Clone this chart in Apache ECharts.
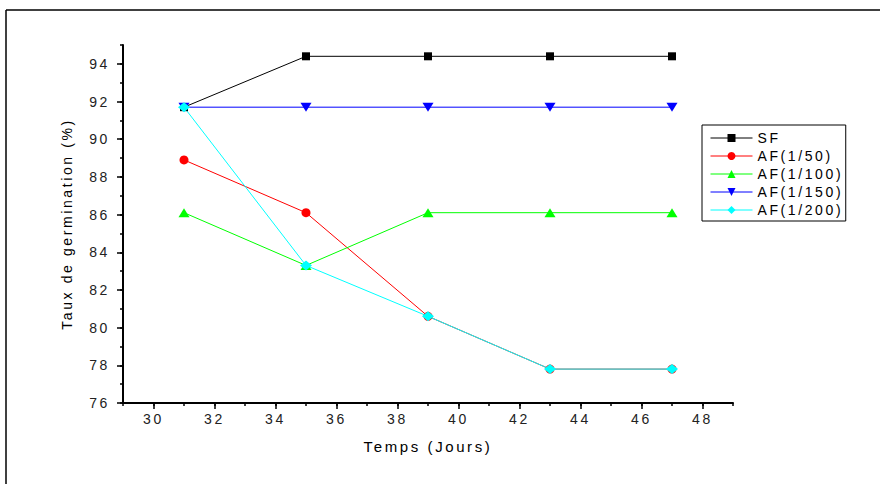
<!DOCTYPE html>
<html>
<head>
<meta charset="utf-8">
<title>Taux de germination</title>
<script src="https://cdn.jsdelivr.net/npm/echarts@6/dist/echarts.min.js"></script>
<style>
  html, body { margin: 0; padding: 0; background: #fff; }
  #main { width: 880px; height: 484px; }
  /* texte espacé comme dans la figure d'origine */
  #main text { letter-spacing: 2.6px; }
</style>
</head>
<body>
<div id="main"></div>
<script>
// jours de mesure
const days = [31, 35, 39, 43, 47];

// taux de germination (%) par traitement
const sf = [91.7, 94.4, 94.4, 94.4, 94.4];
const af50 = [88.9, 86.1, 80.6, 77.8, 77.8];
const af100 = [86.1, 83.3, 86.1, 86.1, 86.1];
const af150 = [91.7, 91.7, 91.7, 91.7, 91.7];
const af200 = [91.7, 83.3, 80.6, 77.8, 77.8];

// graduations des axes
const xTicks = [];
for (let v = 29; v <= 49; v++) xTicks.push(String(v));
const yTicks = [];
for (let v = 76; v <= 95; v++) yTicks.push(String(v));

const font = 'Liberation Sans, Arial, sans-serif';

function pairs(ys) {
  return days.map(function (d, i) { return [d, ys[i]]; });
}

function makeSeries(name, ys, color, symbol, size) {
  return {
    name: name,
    type: 'line',
    xAxisIndex: 0,
    yAxisIndex: 0,
    data: pairs(ys),
    symbol: symbol,
    symbolSize: size,
    showAllSymbol: true,
    lineStyle: { color: color, width: 1 },
    itemStyle: { color: color },
    emphasis: { disabled: true },
    animation: false
  };
}

const even = function (idx, val) { return Number(val) % 2 === 0; };

const option = {
  animation: false,
  grid: { left: 123, right: 147, top: 45, bottom: 81 },
  graphic: [
    { type: 'line', shape: { x1: 6, y1: 10, x2: 880, y2: 10 }, style: { stroke: '#000', lineWidth: 1.5 } },
    { type: 'line', shape: { x1: 6, y1: 10, x2: 6, y2: 484 }, style: { stroke: '#000', lineWidth: 1.5 } }
  ],
  legend: {
    orient: 'vertical',
    left: 702,
    top: 125,
    padding: [6, 26, 4, 8],
    itemWidth: 42,
    itemHeight: 10,
    itemGap: 4,
    borderColor: '#000',
    borderWidth: 1,
    lineStyle: { width: 1 },
    textStyle: { fontFamily: font, fontSize: 14, color: '#000' },
    data: ['SF', 'AF(1/50)', 'AF(1/100)', 'AF(1/150)', 'AF(1/200)']
  },
  xAxis: [
    {
      // petites graduations (pas de 1)
      type: 'value',
      min: 29,
      max: 49,
      interval: 1,
      position: 'bottom',
      axisLine: { lineStyle: { color: '#000', width: 2 } },
      axisTick: { length: 3, lineStyle: { color: '#000', width: 1.5 } },
      axisLabel: { show: false },
      splitLine: { show: false }
    },
    {
      // grandes graduations et libellés (pas de 2)
      type: 'category',
      data: xTicks,
      boundaryGap: false,
      position: 'bottom',
      axisLine: { show: false },
      axisTick: { length: 6, interval: even, lineStyle: { color: '#000', width: 1.5 } },
      axisLabel: { interval: even, margin: 9, fontFamily: font, fontSize: 14, color: '#222' },
      splitLine: { show: false },
      name: 'Temps (Jours)',
      nameLocation: 'middle',
      nameGap: 36,
      nameTextStyle: { fontFamily: font, fontSize: 15, color: '#000' }
    }
  ],
  yAxis: [
    {
      type: 'value',
      min: 76,
      max: 95,
      interval: 1,
      position: 'left',
      axisLine: { show: true, lineStyle: { color: '#000', width: 2 } },
      axisTick: { show: true, length: 3, lineStyle: { color: '#000', width: 1.5 } },
      axisLabel: { show: false },
      splitLine: { show: false }
    },
    {
      type: 'category',
      data: yTicks,
      boundaryGap: false,
      position: 'left',
      axisLine: { show: false },
      axisTick: { length: 6, interval: even, lineStyle: { color: '#000', width: 1.5 } },
      axisLabel: { interval: even, margin: 13, fontFamily: font, fontSize: 14, color: '#222' },
      splitLine: { show: false },
      name: 'Taux de germination (%)',
      nameLocation: 'middle',
      nameGap: 49,
      nameTextStyle: { fontFamily: font, fontSize: 14, color: '#000' }
    }
  ],
  series: [
    makeSeries('SF', sf, '#000000', 'rect', 8),
    makeSeries('AF(1/50)', af50, '#ff0000', 'circle', 9),
    makeSeries('AF(1/100)', af100, '#00ff00', 'triangle', [11, 9]),
    makeSeries('AF(1/150)', af150, '#0000ff', 'path://M0,0L10,0L5,9Z', [11, 9]),
    makeSeries('AF(1/200)', af200, '#00ffff', 'diamond', [12, 10])
  ]
};

const myChart = echarts.init(document.getElementById('main'), null, { renderer: 'svg' });
myChart.setOption(option);
</script>
</body>
</html>
